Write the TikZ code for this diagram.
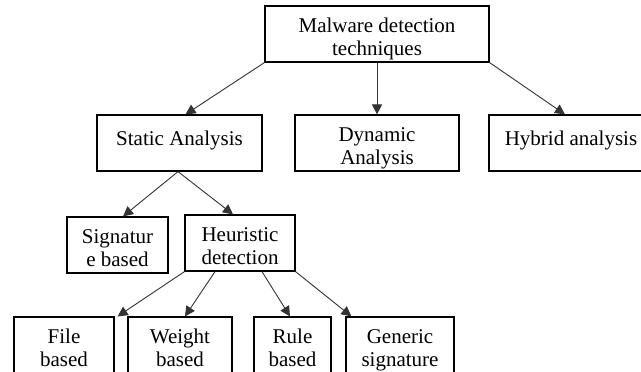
\documentclass[tikz,border=0pt]{standalone}
\usepackage{fontspec}
\setmainfont{Liberation Serif}
\usetikzlibrary{arrows.meta}
\begin{document}
\begin{tikzpicture}[x=0.5pt, y=-0.5pt,
    box/.style = {draw, line width=0.6pt, inner sep=0pt, align=center,
        minimum height=28pt, text height=24.5pt, text depth=3.5pt,
        font=\fontsize{10.5}{11.5}\selectfont},
    one/.style = {text height=15pt, text depth=13pt},
    arr/.style = {-{Triangle[length=5pt,width=5pt]}, line width=0.45pt, draw=black!80}]
    \clip (0,0) rectangle (641,371);
    % root
    \node[box, minimum width=112pt] (mdt) at (377,34) {Malware detection\\techniques};

    % kinds of analysis
    \node[box, one, minimum width=82.5pt] (static) at (179.5,143) {Static Analysis};
    \node[box, minimum width=82pt] (dynamic) at (377,143) {Dynamic\\Analysis};
    \node[box, one, minimum width=82pt] (hybrid) at (571,143) {Hybrid analysis};
    \draw[arr] (mdt.south west) -- ([xshift=3pt]static.north);
    \draw[arr] (mdt.south) -- (dynamic.north);
    \draw[arr] (mdt.south east) -- ([xshift=-3pt]hybrid.north);

    % static
    \node[box, minimum width=50.5pt] (sig) at (117.5,245) {Signatur\\e based};
    \node[box, minimum width=55pt] (heur) at (240,243) {Heuristic\\detection};
    \draw[arr] ([xshift=-0.75pt]static.south) -- ([xshift=2.75pt]sig.north);
    \draw[arr] ([xshift=-0.75pt]static.south) -- ([xshift=-3.5pt]heur.north);

    % heuristic
    \node[box, minimum width=50pt] (file) at (64,345) {File\\based};
    \node[box, minimum width=52pt] (weight) at (180,345) {Weight\\based};
    \node[box, minimum width=38.5pt] (rule) at (292.5,345) {Rule\\based};
    \node[box, minimum width=54pt] (generic) at (400,345) {Generic\\signature};
    \draw[arr] (heur.south west) -- ([xshift=1.5pt]file.north east);
    \draw[arr] ([xshift=-12.5pt]heur.south) -- ([xshift=2.5pt]weight.north);
    \draw[arr] ([xshift=11pt]heur.south) -- ([xshift=-1.25pt]rule.north);
    \draw[arr] (heur.south east) -- ([xshift=3pt]generic.north west);
\end{tikzpicture}
\end{document}
